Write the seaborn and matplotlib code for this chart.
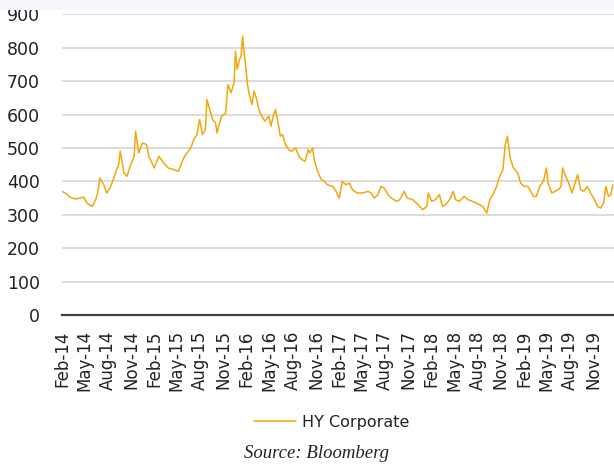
import matplotlib
matplotlib.use("Agg")
import matplotlib.pyplot as plt
import matplotlib.patches as mpatches
import pandas as pd
import seaborn as sns

# HY Corporate spread (bp)
dates = [
    "2014-02-01", "2014-02-15", "2014-03-04", "2014-03-25", "2014-04-13", "2014-04-28",
    "2014-05-10", "2014-06-01", "2014-06-13", "2014-06-22", "2014-07-01", "2014-07-16",
    "2014-07-28", "2014-08-10", "2014-08-25", "2014-09-04", "2014-09-13", "2014-09-19",
    "2014-10-04", "2014-10-16", "2014-10-28", "2014-11-13", "2014-11-19", "2014-12-01",
    "2014-12-16", "2015-01-01", "2015-01-10", "2015-02-01", "2015-02-19", "2015-03-10",
    "2015-03-28", "2015-04-19", "2015-05-07", "2015-05-28", "2015-06-10", "2015-06-25",
    "2015-07-07", "2015-07-19", "2015-07-30", "2015-08-10", "2015-08-22", "2015-08-28",
    "2015-09-10", "2015-09-19", "2015-10-01", "2015-10-07", "2015-10-13", "2015-10-25",
    "2015-11-10", "2015-11-19", "2015-12-01", "2015-12-13", "2015-12-19", "2015-12-25",
    "2016-01-04", "2016-01-10", "2016-01-16", "2016-01-22", "2016-01-28", "2016-02-04",
    "2016-02-10", "2016-02-16", "2016-02-22", "2016-03-01", "2016-03-10", "2016-03-22",
    "2016-04-01", "2016-04-13", "2016-04-28", "2016-05-07", "2016-05-16", "2016-05-25",
    "2016-06-04", "2016-06-13", "2016-06-22", "2016-07-04", "2016-07-16", "2016-07-28",
    "2016-08-13", "2016-08-25", "2016-09-07", "2016-09-19", "2016-10-01", "2016-10-07",
    "2016-10-19", "2016-10-25", "2016-11-07", "2016-11-22", "2016-12-04", "2016-12-16",
    "2017-01-07", "2017-01-19", "2017-02-01", "2017-02-13", "2017-02-27", "2017-03-13",
    "2017-03-25", "2017-04-13", "2017-05-04", "2017-05-25", "2017-06-07", "2017-06-19",
    "2017-07-04", "2017-07-16", "2017-07-28", "2017-08-13", "2017-08-25", "2017-09-16",
    "2017-09-28", "2017-10-16", "2017-10-28", "2017-11-19", "2017-12-10", "2017-12-28",
    "2018-01-13", "2018-01-19", "2018-02-01", "2018-02-16", "2018-03-04", "2018-03-16",
    "2018-03-28", "2018-04-13", "2018-04-28", "2018-05-07", "2018-05-22", "2018-05-28",
    "2018-06-10", "2018-06-25", "2018-07-13", "2018-07-28", "2018-08-10", "2018-08-22",
    "2018-09-07", "2018-09-19", "2018-10-01", "2018-10-16", "2018-10-28", "2018-11-10",
    "2018-11-19", "2018-11-28", "2018-12-04", "2018-12-10", "2018-12-22", "2019-01-07",
    "2019-01-19", "2019-02-01", "2019-02-16", "2019-02-28", "2019-03-10", "2019-03-22",
    "2019-04-04", "2019-04-19", "2019-05-01", "2019-05-07", "2019-05-22", "2019-06-04",
    "2019-06-16", "2019-06-28", "2019-07-04", "2019-07-16", "2019-07-28", "2019-08-10",
    "2019-08-22", "2019-09-01", "2019-09-13", "2019-09-25", "2019-10-10", "2019-10-22",
    "2019-11-04", "2019-11-19", "2019-12-01", "2019-12-13", "2019-12-22", "2020-01-01",
    "2020-01-10", "2020-01-19",
]
hy_corporate = [
    370, 365, 353, 347, 350, 353,
    335, 325, 343, 365, 410, 390,
    365, 380, 410, 435, 450, 490,
    425, 415, 445, 475, 550, 485,
    515, 510, 475, 440, 475, 455,
    440, 435, 430, 470, 485, 500,
    525, 540, 585, 540, 555, 645,
    610, 585, 575, 545, 565, 595,
    605, 690, 665, 695, 790, 735,
    765, 775, 835, 785, 745, 690,
    665, 645, 630, 670, 650, 610,
    595, 580, 595, 565, 595, 615,
    575, 535, 540, 510, 495, 490,
    500, 475, 465, 460, 495, 485,
    500, 465, 430, 405, 400, 390,
    385, 370, 350, 400, 390, 395,
    375, 365, 365, 370, 365, 350,
    360, 385, 380, 360, 350, 340,
    345, 370, 350, 345, 330, 315,
    325, 365, 340, 345, 360, 325,
    330, 345, 370, 345, 340, 345,
    355, 345, 340, 335, 330, 325,
    305, 345, 360, 385, 415, 435,
    510, 535, 495, 465, 440, 425,
    395, 385, 385, 370, 355, 355,
    385, 400, 440, 395, 365, 370,
    375, 385, 440, 415, 395, 365,
    395, 420, 375, 370, 385, 365,
    350, 325, 320, 335, 385, 355,
    360, 390,
]
tick_labels = [
    "Feb-14", "May-14", "Aug-14", "Nov-14", "Feb-15", "May-15", "Aug-15", "Nov-15",
    "Feb-16", "May-16", "Aug-16", "Nov-16", "Feb-17", "May-17", "Aug-17", "Nov-17",
    "Feb-18", "May-18", "Aug-18", "Nov-18", "Feb-19", "May-19", "Aug-19", "Nov-19",
]
y_ticks = [0, 100, 200, 300, 400, 500, 600, 700, 800, 900]

df = pd.DataFrame({"date": pd.to_datetime(dates), "HY Corporate": hy_corporate})

sns.set_style("white")
plt.rcParams["font.family"] = ["DejaVu Sans"]

line_color = "#F3A70A"
text_color = "#222222"

fig = plt.figure(figsize=(6.14, 4.66), dpi=100)
ax = fig.add_axes([62 / 614, 1 - 315 / 466, 552 / 614, (315 - 14.3) / 466])

sns.lineplot(data=df, x="date", y="HY Corporate", color=line_color,
             linewidth=1.1, ax=ax, label="HY Corporate", legend=False)

ax.set_xlim(pd.Timestamp("2014-02-01"), pd.Timestamp("2020-01-23"))
ax.set_ylim(0, 900)
ax.set_yticks(y_ticks)
ax.set_yticklabels([str(v) for v in y_ticks])
ax.set_xticks(pd.to_datetime(tick_labels, format="%b-%y"))
ax.set_xticklabels(tick_labels, rotation=90)
ax.tick_params(axis="y", length=0, pad=16, labelsize=12.5, labelcolor=text_color)
ax.tick_params(axis="x", length=0, pad=11, labelsize=12, labelcolor=text_color)
ax.set_xlabel("")
ax.set_ylabel("")

ax.grid(axis="y", color="#d9d9d9", linewidth=1.3)
ax.set_axisbelow(True)
for side in ["left", "right", "top"]:
    ax.spines[side].set_visible(False)
ax.spines["bottom"].set_color("#404040")
ax.spines["bottom"].set_linewidth(1.6)
ax.spines["bottom"].set_zorder(3)

handles, labels = ax.get_legend_handles_labels()
fig.legend(handles, labels, loc="center", bbox_to_anchor=(332 / 614, 1 - 422 / 466),
           frameon=False, fontsize=11.5, handlelength=2.6, handletextpad=0.4,
           labelcolor=text_color)

fig.text(316 / 614, 1 - 453 / 466, "Source: Bloomberg", ha="center", va="center",
         family="Liberation Serif", style="italic", fontsize=13.5, color=text_color)

# light band at the very top of the screenshot
fig.add_artist(mpatches.Rectangle((0, 1 - 10 / 466), 1, 10 / 466,
                                  transform=fig.transFigure, facecolor="#f6f7fb",
                                  edgecolor="none", zorder=10))

fig.savefig("out.png", dpi=100)
